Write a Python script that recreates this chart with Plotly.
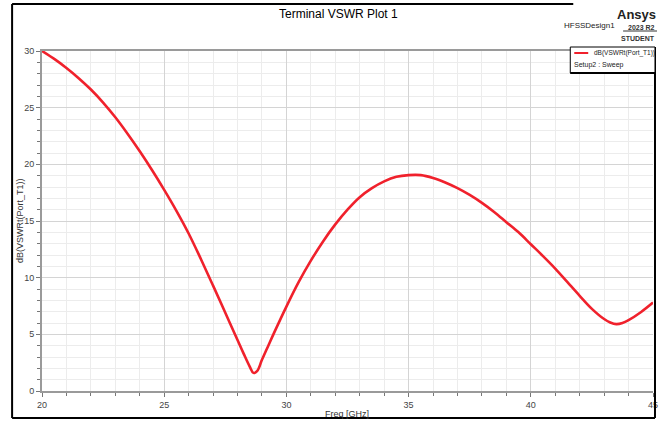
import plotly.graph_objects as go

# Swept frequency points (GHz) and terminal VSWR in dB
freq_ghz = [20, 20.5, 21, 21.5, 22, 22.5, 23, 23.5, 24, 24.5, 25, 25.5, 26,
            26.5, 27, 27.5, 28, 28.25, 28.5, 28.65, 28.8, 29, 29.25, 29.5,
            30, 30.5, 31, 31.5, 32, 32.5, 33, 33.5, 34, 34.5, 35, 35.5, 36,
            36.5, 37, 37.5, 38, 38.5, 39, 39.5, 40, 40.5, 41, 41.5, 42, 42.5,
            43, 43.25, 43.5, 43.75, 44, 44.5, 45]
vswr_db = [30.0, 29.3, 28.5, 27.6, 26.6, 25.45, 24.15, 22.7, 21.15, 19.5,
           17.75, 15.9, 13.9, 11.65, 9.3, 6.9, 4.5, 3.3, 2.15, 1.6, 1.75,
           2.75, 3.95, 5.15, 7.45, 9.6, 11.5, 13.2, 14.7, 16.0, 17.1, 17.9,
           18.5, 18.9, 19.05, 19.05, 18.8, 18.4, 17.9, 17.3, 16.6, 15.8,
           14.9, 14.0, 12.95, 11.9, 10.8, 9.6, 8.4, 7.25, 6.35, 6.05, 5.9,
           6.0, 6.25, 6.95, 7.8]

x_ticks = [20, 25, 30, 35, 40, 45]
y_ticks = [0, 5, 10, 15, 20, 25, 30]

W, H = 670, 424
L, R, T, B = 42, 15, 51, 33
PW, PH = W - L - R, H - T - B
FONT = "Liberation Sans, Arial, sans-serif"
RED = "#f0212c"


def px(x):
    """Pixel x -> paper x."""
    return (x - L) / PW


def py(y):
    """Pixel y -> paper y."""
    return (H - B - y) / PH


fig = go.Figure()
fig.add_trace(go.Scatter(
    x=freq_ghz, y=vswr_db, mode="lines",
    line=dict(color=RED, width=2.6, shape="spline", smoothing=1.0),
    name="dB(VSWRt(Port_T1))", showlegend=False, hoverinfo="x+y",
))

axis_common = dict(
    showline=True, linecolor="#9a9a9a", linewidth=2,
    ticks="outside", ticklen=4, tickcolor="#777", tickwidth=1,
    showgrid=True, gridcolor="#d4d4d4", gridwidth=1,
    zeroline=False,
    tickfont=dict(family=FONT, size=9, color="#444"),
    minor=dict(dtick=1, showgrid=True, gridcolor="#ececec", gridwidth=1,
               ticks="outside", ticklen=3, tickcolor="#777"),
)

fig.update_xaxes(range=[20, 45], tickvals=x_ticks, mirror=True, **axis_common)
fig.update_yaxes(range=[0, 30], tickvals=y_ticks, **axis_common)

shapes = []
frame = dict(type="line", xref="paper", yref="paper",
             line=dict(color="black", width=2))
# outer window frame
shapes.append({**frame, "x0": px(12), "y0": py(4), "x1": px(575), "y1": py(4)})
shapes.append({**frame, "x0": px(12), "y0": py(4), "x1": px(12), "y1": py(418)})
shapes.append({**frame, "x0": px(12), "y0": py(418), "x1": px(657), "y1": py(418)})
shapes.append({**frame, "x0": px(657), "y0": py(47), "x1": px(657), "y1": py(418)})
# legend box
shapes.append(dict(type="rect", xref="paper", yref="paper",
                   x0=px(572), y0=py(47), x1=px(657), y1=py(73),
                   fillcolor="white", line=dict(color="black", width=1)))
shapes.append({**frame, "x0": px(572), "y0": py(73), "x1": px(657), "y1": py(73)})
shapes.append(dict(type="line", xref="paper", yref="paper",
                   x0=px(576), y0=py(53), x1=px(590), y1=py(53),
                   line=dict(color=RED, width=2)))
# underline of the release tag
shapes.append(dict(type="line", xref="paper", yref="paper",
                   x0=px(625), y0=py(31), x1=px(659), y1=py(31),
                   line=dict(color="#333", width=1)))

annotations = [
    dict(text="Terminal VSWR Plot 1", x=px(339), y=py(14), xref="paper",
         yref="paper", showarrow=False, xanchor="center", yanchor="middle",
         font=dict(family=FONT, size=12, color="#000")),
    dict(text="HFSSDesign1", x=px(591), y=py(25), xref="paper", yref="paper",
         showarrow=False, xanchor="center", yanchor="middle",
         font=dict(family=FONT, size=8, color="#222")),
    dict(text="<b>Ansys</b>", x=px(660), y=py(15), xref="paper", yref="paper",
         showarrow=False, xanchor="right", yanchor="middle",
         font=dict(family=FONT, size=13, color="#222")),
    dict(text="<b>2023 R2</b>", x=px(659), y=py(27), xref="paper", yref="paper",
         showarrow=False, xanchor="right", yanchor="middle",
         font=dict(family=FONT, size=7, color="#333")),
    dict(text="<b>STUDENT</b>", x=px(659), y=py(39), xref="paper", yref="paper",
         showarrow=False, xanchor="right", yanchor="middle",
         font=dict(family=FONT, size=7, color="#333")),
    dict(text="dB(VSWRt(Port_T1))", x=px(594), y=py(53), xref="paper",
         yref="paper", showarrow=False, xanchor="left", yanchor="middle",
         font=dict(family=FONT, size=6.5, color="#222")),
    dict(text="Setup2 : Sweep", x=px(574), y=py(65), xref="paper",
         yref="paper", showarrow=False, xanchor="left", yanchor="middle",
         font=dict(family=FONT, size=7, color="#222")),
    dict(text="dB(VSWRt(Port_T1))", x=px(20), y=py(221), xref="paper",
         yref="paper", showarrow=False, xanchor="center", yanchor="middle",
         textangle=-90, font=dict(family=FONT, size=9, color="#333")),
    dict(text="Freq [GHz]", x=px(348), y=py(414), xref="paper", yref="paper",
         showarrow=False, xanchor="center", yanchor="middle",
         font=dict(family=FONT, size=9, color="#333")),
]

fig.update_layout(
    width=W, height=H,
    margin=dict(l=L, r=R, t=T, b=B),
    paper_bgcolor="white", plot_bgcolor="white",
    shapes=shapes, annotations=annotations,
    showlegend=False,
)

fig.write_html("out.html")
